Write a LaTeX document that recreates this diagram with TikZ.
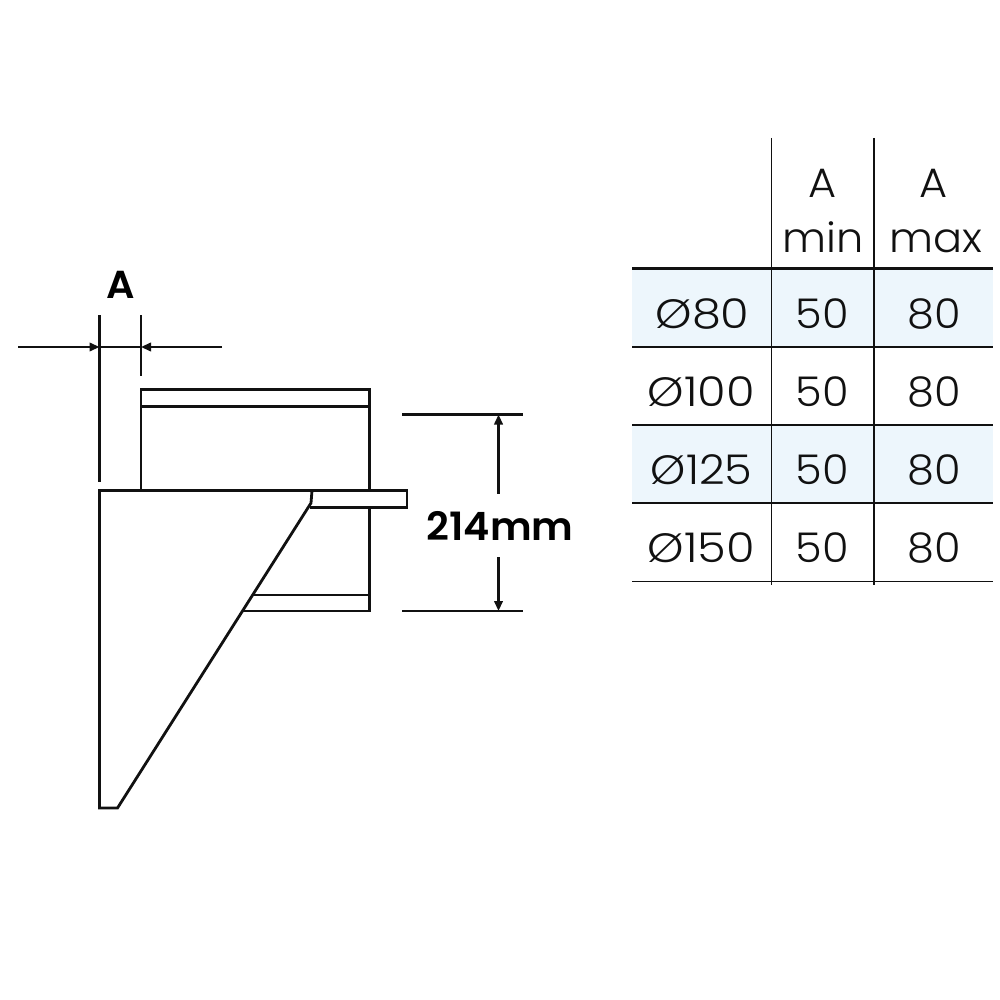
\documentclass[tikz,border=0pt]{standalone}
\usepackage{fontspec}
\setmainfont{Poppins Light}
\newfontfamily\cellf[FakeStretch=1.05]{Poppins Light}
\newfontfamily\diaf[FakeStretch=1.13]{Poppins Light}
\newfontfamily\diag[FakeStretch=1.09]{Poppins Light}
\newfontfamily\boldf[FakeStretch=1.02]{Poppins SemiBold}
\usetikzlibrary{arrows.meta}
\definecolor{rowblue}{HTML}{EDF6FC}
\definecolor{ink}{HTML}{111111}
\tikzset{
  part/.style={draw=ink,line width=2.8pt,line join=miter},
  dim/.style={draw=ink,line width=2.2pt},
  dimarrow/.style={draw=ink,line width=2.2pt,-{Triangle[length=10pt,width=8.5pt]}},
  rule/.style={draw=ink,line width=1.6pt},
  cell/.style={font=\cellf\fontsize{41}{41}\selectfont,text=ink,inner sep=0pt,anchor=base},
  diacell/.style={font=\diaf\fontsize{41}{41}\selectfont,text=ink,inner sep=0pt,anchor=base},
  diacellb/.style={font=\diag\fontsize{41}{41}\selectfont,text=ink,inner sep=0pt,anchor=base},
  bigl/.style={font=\boldf\fontsize{39}{39}\selectfont,text=black,inner sep=0pt,anchor=base}
}
\begin{document}
\begin{tikzpicture}[x=1pt,y=-1pt]
\useasboundingbox (0,0) rectangle (1000,1000);
% table shading
\fill[rowblue] (632,270) rectangle (993,347);
\fill[rowblue] (632,425) rectangle (993,503);
% table rules
\draw[draw=ink,line width=1.7pt] (771.5,138) -- (771.5,585);
\draw[draw=ink,line width=2.3pt] (874,138) -- (874,585);
\draw[draw=ink,line width=3.6pt] (632,268.5) -- (993,268.5);
\foreach \y in {347,425,503,581.5} \draw[rule] (632,\y) -- (993,\y);
% table text
\node[cell] (ha1) at (822.5,198) {A};
\node[cell] (ha2) at (934,198) {A};
\node[cell] (hmin) at (823,252) {min};
\node[cell] (hmax) at (935.5,252) {max};
\node[diacell] (r1a) at (702.5,328) {Ø80};
\node[cell] (r1b) at (822,328) {50};
\node[cell] (r1c) at (934,328) {80};
\node[diacell] (r2a) at (701.5,406) {Ø100};
\node[cell] (r2b) at (822,406) {50};
\node[cell] (r2c) at (934,406) {80};
\node[diacellb] (r3a) at (701.5,484) {Ø125};
\node[cell] (r3b) at (822,484) {50};
\node[cell] (r3c) at (934,484) {80};
\node[diacell] (r4a) at (701.5,562) {Ø150};
\node[cell] (r4b) at (822,562) {50};
\node[cell] (r4c) at (934,562) {80};
% duct
\draw[part] (141,490.5) -- (141,389.5) -- (369.5,389.5) -- (369.5,490.5);
\draw[part] (141,406.5) -- (369.5,406.5);
\draw[part] (369.5,507.5) -- (369.5,611) -- (241.5,611);
\draw[part] (251.5,595) -- (369.5,595);
% bracket
\draw[part,fill=white] (312,490.5) -- (407,490.5) -- (407,507.5) -- (310,507.5);
\draw[part] (99.5,490.5) -- (312,490.5) -- (311,503) -- (117.5,808) -- (99.5,808) -- cycle;
% dimension A
\coordinate (a1) at (99.5,347);
\coordinate (a2) at (141,347);
\coordinate (al) at (18,347);
\coordinate (ar) at (222,347);
\draw[dim] (99.5,315) -- (99.5,482);
\draw[dim] (141,315) -- (141,376);
\draw[dim] (a1) -- (a2);
\draw[dimarrow] (al) -- (a1);
\draw[dimarrow] (ar) -- (a2);
\node[bigl] (lA) at (121,298.5) {A};
% dimension 214mm
\coordinate (b1) at (498.5,414.5);
\coordinate (b2) at (498.5,611);
\coordinate (bt) at (498.5,493.5);
\coordinate (bb) at (498.5,557);
\draw[dim] (402,414.5) -- (523,414.5);
\draw[dim] (402,611) -- (523,611);
\draw[dimarrow] (bt) -- (b1);
\draw[dimarrow] (bb) -- (b2);
\node[bigl] (l214) at (500,540) {214mm};
\end{tikzpicture}
\end{document}
